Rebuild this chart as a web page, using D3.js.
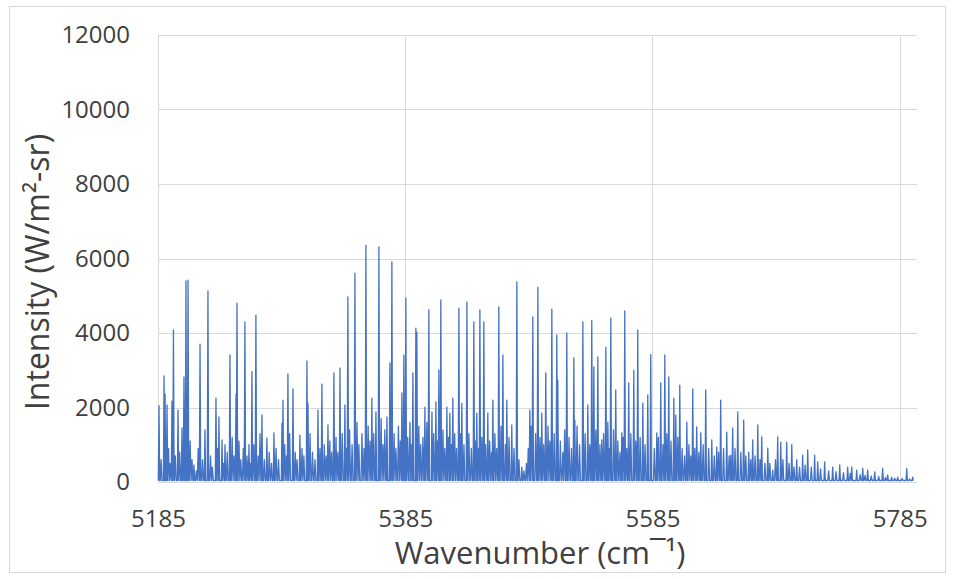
<!DOCTYPE html>
<html><head><meta charset="utf-8">
<script src="https://cdn.jsdelivr.net/npm/d3@7/dist/d3.min.js"></script>
<style>body{margin:0;background:#fff}svg{display:block}</style>
</head><body>
<svg id="c" width="954" height="579"></svg>
<script>
// Main spectral lines: wavenumber (cm^-1) and peak intensity (W/m2-sr)
const peakWavenumbers = [5185.8,5189.9,5190.7,5192.3,5196.3,5197.5,5201.2,5204.4,5206.0,5207.6,5209.3,5214.1,5219.0,5223.0,5225.4,5231.9,5234.3,5236.8,5239.2,5243.2,5248.1,5248.9,5255.3,5258.6,5261.0,5264.2,5269.1,5273.1,5278.8,5285.3,5286.1,5290.1,5294.2,5299.8,5305.5,5306.3,5314.4,5317.6,5322.5,5327.3,5332.2,5336.2,5338.6,5344.3,5353.2,5358.0,5361.3,5363.7,5370.2,5372.6,5374.2,5382.3,5383.9,5385.5,5391.2,5393.6,5394.4,5400.9,5404.1,5406.6,5409.8,5412.2,5413.8,5418.7,5421.1,5423.5,5428.4,5430.8,5434.9,5440.5,5442.9,5445.4,5448.6,5451.8,5455.9,5460.7,5464.0,5467.2,5471.2,5475.3,5479.3,5485.8,5488.2,5492.3,5495.5,5498.7,5503.6,5507.6,5508.4,5515.7,5521.4,5522.2,5528.7,5532.7,5535.9,5537.6,5540.8,5544.0,5547.3,5548.9,5551.3,5555.3,5560.2,5562.6,5565.8,5569.9,5573.1,5577.2,5581.2,5583.6,5588.5,5591.7,5595.0,5598.2,5602.3,5603.9,5607.1,5612.8,5617.6,5620.8,5624.1,5628.1,5633.0,5637.0,5640.2,5645.1,5648.3,5649.9,5654.0,5658.8,5662.9,5666.1,5670.2,5673.4,5678.3,5682.3,5686.3,5688.8,5693.6,5697.7,5701.7,5706.5,5710.6,5716.2,5718.7,5724.3,5730.8,5736.5,5742.9,5746.2,5750.2,5755.1,5759.1,5764.8,5771.2,5775.3,5778.5,5783.4,5790.7,5795.5];
const peakIntensities = [2050,2850,2360,2070,2170,4080,1930,1450,2820,5400,5420,460,3700,1400,5130,2250,1750,1130,1000,3410,2360,4800,4300,1000,2960,4480,1800,1180,1320,1580,2200,2900,2500,1260,3250,2120,1930,2630,1530,2930,3060,2070,4970,5610,6360,2250,1880,6310,1750,3200,5910,2390,3410,4940,2930,4130,4020,2010,4620,1880,2150,3000,4890,2010,1850,2250,4670,2120,4830,4300,1850,4620,4300,1850,2200,4700,3410,2200,1530,5370,400,1930,4430,5230,1850,2930,4640,3950,2740,4000,3330,1660,4300,2070,4330,3090,3360,1130,3620,1610,4400,2470,1320,4590,2660,3000,4080,2120,2340,3420,1320,2660,3410,2820,2250,1800,2600,1610,2500,1480,1320,2470,1130,940,2200,1340,720,1450,1880,1660,800,1130,1530,1210,910,320,1210,1070,1070,1000,600,720,860,720,540,540,400,460,400,400,320,370,320,270,370,190,130,130,360,130];
// Weaker lines filling the base of the spectrum
const minorWavenumbers = [5187.5,5193.5,5195,5199,5202.5,5211,5212.5,5216,5217.5,5221,5227.5,5229,5233,5238,5241,5245,5246.5,5250.5,5252,5254,5257,5259.8,5262.5,5266,5267.5,5271,5275,5276.8,5280.5,5282.5,5287.5,5289,5291.5,5296,5297.5,5301.5,5303,5308,5310,5312,5316,5319.5,5321,5324,5325.5,5329,5330.5,5334,5337.3,5340,5342,5346,5347.5,5350,5351.7,5355,5356.5,5359.5,5365.5,5367,5368.5,5376,5377.5,5379.5,5381,5387,5388.8,5390,5396,5397.5,5399.3,5402.5,5408,5411,5415.5,5417,5420,5422.3,5425,5426.5,5429.8,5432.5,5436.5,5438.5,5441.8,5444,5447,5450,5453.3,5454.8,5457.5,5459,5462.5,5466,5469,5473,5477,5481,5483,5484.5,5487,5490.5,5494,5497,5500.5,5502,5505.5,5510.5,5512.5,5514,5517.5,5519.5,5524,5526,5530.5,5534.3,5539.2,5542.5,5545.5,5550,5553.5,5557,5558.7,5561.3,5564.2,5567.5,5571.5,5575,5579,5586.5,5589.8,5593.5,5596.6,5600,5605.5,5609,5611,5614.5,5616,5619.2,5622.5,5626,5630.5,5635,5638.5,5642.5,5647,5651.8,5656.5,5660.5,5664.5,5668,5672,5676,5680,5684.5,5690.5,5695.5,5699.5,5704,5708.5,5713.5,5721,5727.5,5733.5,5739.5,5745,5753,5757,5762,5768,5773.5,5781,5787,5793];
const minorIntensities = [600,900,500,700,800,1100,600,300,900,600,700,400,900,500,800,1200,700,1100,600,900,700,500,1000,700,1300,600,800,500,900,600,1000,700,1300,800,600,900,700,1300,800,600,900,1000,700,1100,800,1200,800,1300,900,1400,1000,1600,1000,1300,900,1500,1100,1300,1700,1000,1400,1300,900,1500,1100,1200,1600,1000,1500,1000,1200,1600,1300,1100,1400,900,1200,1000,1300,900,1300,1000,1300,900,1100,900,1200,1000,1100,800,1300,900,1500,1000,1200,900,600,300,500,900,1500,1300,1200,1000,1500,1100,1300,1100,800,1400,1200,900,1500,1000,1300,1000,1400,1000,1300,900,1400,1100,800,1200,900,1300,1100,1200,1000,900,1200,1000,1300,1100,1200,900,700,1000,700,900,800,1000,900,700,800,900,700,900,800,700,600,700,600,500,500,600,600,500,400,400,450,400,350,300,280,250,230,200,180,160,150,120,100,90,80];

const xTicks = [5185, 5385, 5585, 5785];
const yTicks = [0, 2000, 4000, 6000, 8000, 10000, 12000];
const xDomain = [5185, 5799];
const yDomain = [0, 12000];

const svg = d3.select("#c");
const font = "'Open Sans', 'Noto Sans', sans-serif";
const L = 158, R = 917, T = 35, B = 482;

svg.append("rect").attr("x", 9.5).attr("y", 6.5).attr("width", 936).attr("height", 566)
  .attr("fill", "#fff").attr("stroke", "#d9d9d9");

const x = d3.scaleLinear().domain(xDomain).range([L, R]);
const y = d3.scaleLinear().domain(yDomain).range([B, T]);

// gridlines
svg.append("g").selectAll("line").data(yTicks).join("line")
  .attr("x1", L).attr("x2", R).attr("y1", d => Math.round(y(d)) + 0.5).attr("y2", d => Math.round(y(d)) + 0.5)
  .attr("stroke", "#d9d9d9").attr("stroke-width", 1);
svg.append("g").selectAll("line").data(xTicks).join("line")
  .attr("x1", d => Math.round(x(d)) + 0.5).attr("x2", d => Math.round(x(d)) + 0.5).attr("y1", T).attr("y2", B)
  .attr("stroke", "#d9d9d9").attr("stroke-width", 1);

// spectrum
const peaks = peakWavenumbers.map((w, i) => [w, peakIntensities[i], 0.55])
  .concat(minorWavenumbers.map((w, i) => [w, minorIntensities[i], 0.7]))
  .sort((a, b) => a[0] - b[0]);
const pts = [];
const base = 40;
peaks.forEach(([w, h, hw]) => { pts.push([w - hw, base]); pts.push([w, h]); pts.push([w + hw, base]); });
svg.append("path").datum(pts)
  .attr("d", d3.line().x(d => x(d[0])).y(d => y(d[1])))
  .attr("fill", "none").attr("stroke", "#4472C4").attr("stroke-width", 1.3).attr("stroke-linejoin", "round");

// axes
const xa = svg.append("g").attr("transform", `translate(0,${B})`)
  .call(d3.axisBottom(x).tickValues(xTicks).tickSize(0).tickPadding(28).tickFormat(d3.format("d")));
xa.select(".domain").remove();
xa.selectAll("text").attr("font-family", font).attr("font-size", 24).attr("fill", "#404040");

const ya = svg.append("g").attr("transform", `translate(${L},0)`)
  .call(d3.axisLeft(y).tickValues(yTicks).tickSize(0).tickPadding(28).tickFormat(d3.format("d")));
ya.select(".domain").remove();
ya.selectAll("text").attr("font-family", font).attr("font-size", 24).attr("fill", "#404040");

svg.append("text").attr("x", 540).attr("y", 564).attr("text-anchor", "middle")
  .attr("font-family", font).attr("font-size", 31).attr("fill", "#404040")
  .text("Wavenumber (cm¯¹)");
svg.append("text").attr("transform", "translate(49,272) rotate(-90)").attr("text-anchor", "middle")
  .attr("font-family", font).attr("font-size", 32).attr("fill", "#404040")
  .text("Intensity (W/m²-sr)");
</script>
</body></html>
